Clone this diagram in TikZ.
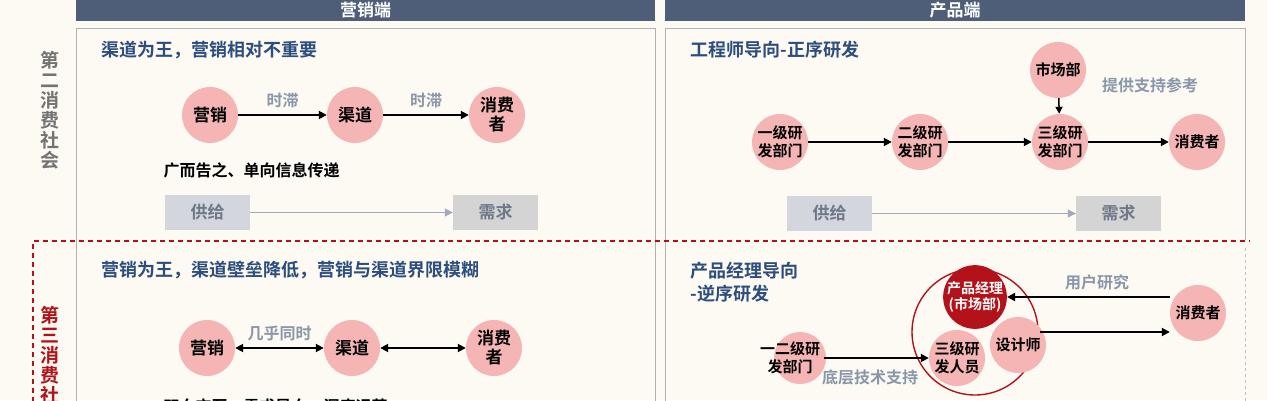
\documentclass[tikz,border=0pt]{standalone}
\usepackage{fontspec}
\setmainfont{Noto Sans CJK SC}[BoldFont={Noto Sans CJK SC Bold}]
\newfontfamily\cjkb{Noto Sans CJK SC Bold}
\usetikzlibrary{arrows.meta}
\definecolor{bg}{HTML}{FCFAF2}
\definecolor{hdr}{HTML}{4E5D78}
\definecolor{ttl}{HTML}{2C4D7E}
\definecolor{pink}{HTML}{F5B5B5}
\definecolor{gr}{HTML}{8A96AA}
\definecolor{dred}{HTML}{B3121A}
\tikzset{
 x=1pt,y=-1pt,
 hdrbar/.style={fill=hdr,minimum height=20pt,text=white,font=\cjkb\fontsize{17}{17}\selectfont},
 panel/.style={draw=black!30,line width=0.8pt},
 title/.style={anchor=west,text=ttl,font=\cjkb\fontsize{18}{23}\selectfont,align=left},
 circ/.style={circle,fill=pink,minimum size=56pt,inner sep=0pt,align=center,font=\cjkb\fontsize{17}{19}\selectfont},
 circs/.style={circ,font=\cjkb\fontsize{15}{18}\selectfont},
 arr/.style={-{Triangle[length=8pt,width=8pt]},line width=1.8pt},
 darr/.style={{Triangle[length=8pt,width=8pt]}-{Triangle[length=8pt,width=8pt]},line width=1.8pt},
 lbl/.style={text=gr,font=\cjkb\fontsize{16}{18}\selectfont},
 sbox/.style={minimum width=85pt,minimum height=35pt,text=gr!80!black,font=\cjkb\fontsize{17}{18}\selectfont},
 side/.style={align=center,font=\cjkb\fontsize{19}{20}\selectfont},
 body/.style={anchor=west,font=\cjkb\fontsize{16}{18}\selectfont}
}
\begin{document}
\begin{tikzpicture}
\useasboundingbox (0,0) rectangle (1267,400);
\clip (0,0) rectangle (1267,400);
\fill[bg] (0,0) rectangle (1267,400);
% headers
\node[hdrbar,minimum width=579pt] (h1) at (365.5,10) {营销端};
\node[hdrbar,minimum width=580pt] (h2) at (955,10) {产品端};
% panels
\draw[panel] (76,420) -- (76,28) -- (655,28) -- (655,420);
\draw[panel] (665,420) -- (665,28) -- (1245,28) -- (1245,240);
\draw[black!25,dashed] (1245,248) -- (1245,420);
\draw[dred,dash pattern=on 5pt off 4pt,line width=1.2pt] (33,420) -- (33,241) -- (1250,241);
% side labels
\node[side,text=black!55] (s1) at (50,110) {第\\二\\消\\费\\社\\会};
\node[side,text=dred] (s2) at (50,365) {第\\三\\消\\费\\社\\会};

% ---- top left
\node[title] (t1) at (98,50) {渠道为王，营销相对不重要};
\node[circ] (a1) at (210,115) {营销};
\node[circ] (a2) at (355,115) {渠道};
\node[circ] (a3) at (497,115) {消费\\者};
\draw[arr] (a1) -- node[lbl,above=3pt]{时滞} (a2);
\draw[arr] (a2) -- node[lbl,above=3pt]{时滞} (a3);
\node[body] (d1) at (160,170) {广而告之、单向信息传递};
\node[sbox,fill=hdr!25] (g1) at (207.5,212.5) {供给};
\node[sbox,fill=black!17] (x1) at (495.5,212.5) {需求};
\draw[-{Triangle[length=8pt,width=8pt]},gr!80,line width=1pt] (g1) -- (x1);

% ---- bottom left
\node[title] (t2) at (98,270) {营销为王，渠道壁垒降低，营销与渠道界限模糊};
\node[circ] (b1) at (207,348) {营销};
\node[circ] (b2) at (352,348) {渠道};
\node[circ] (b3) at (494,348) {消费\\者};
\draw[darr] (b1) -- node[lbl,above=3pt]{几乎同时} (b2);
\draw[darr] (b2) -- (b3);
\node[body] (d2) at (160,406) {双向交互、需求导向、深度运营};

% ---- top right
\node[title] (t3) at (687,50) {工程师导向-正序研发};
\node[circs] (c1) at (780,142) {一级研\\发部门};
\node[circs] (c2) at (920,142) {二级研\\发部门};
\node[circs] (c3) at (1060,142) {三级研\\发部门};
\node[circs] (c4) at (1058,70) {市场部};
\node[circs] (c5) at (1197,142) {消费者};
\draw[arr] (c1) -- (c2);
\draw[arr] (c2) -- (c3);
\draw[arr] (c3) -- (c5);
\draw[-{Triangle[length=7pt,width=7pt]},line width=1.5pt] (c4) -- (c3);
\node[lbl] (p1) at (1150,85) {提供支持参考};
\node[sbox,fill=hdr!25] (g2) at (829.5,213.5) {供给};
\node[sbox,fill=black!17] (x2) at (1118.5,213.5) {需求};
\draw[-{Triangle[length=8pt,width=8pt]},gr!80,line width=1pt] (g2) -- (x2);

% ---- bottom right
\node[title] (t4) at (687,282) {产品经理导向\\-逆序研发};
\node[circle,draw=dred,line width=1.4pt,minimum size=126pt] (big) at (975,332) {};
\node[circs] (e3) at (957,358) {三级研\\发人员};
\node[circs] (e2) at (1018,345) {设计师};
\node[circs,fill=dred,text=white,font=\cjkb\fontsize{14}{16}\selectfont,minimum size=60pt] (e1) at (975,297) {产品经理\\(市场部)};
\node[circs] (e4) at (1198,313) {消费者};
\node[circs,minimum size=52pt] (e5) at (800,358) {};
\node[font=\cjkb\fontsize{15}{18}\selectfont,align=center] (e5t) at (790,358) {一二级研\\发部门};
\draw[arr] (e4.west |- 0,297) coordinate (q1) -- (e1.east);
\node[lbl] (p2) at (1097,282) {用户研究};
\coordinate (q2) at (1040,332);
\draw[arr] (q2) -- (e4.west |- q2);
\draw[arr] (e5t.east |- 0,358) -- (e3.west);
\node[lbl] (p3) at (870,377) {底层技术支持};
\end{tikzpicture}
\end{document}
